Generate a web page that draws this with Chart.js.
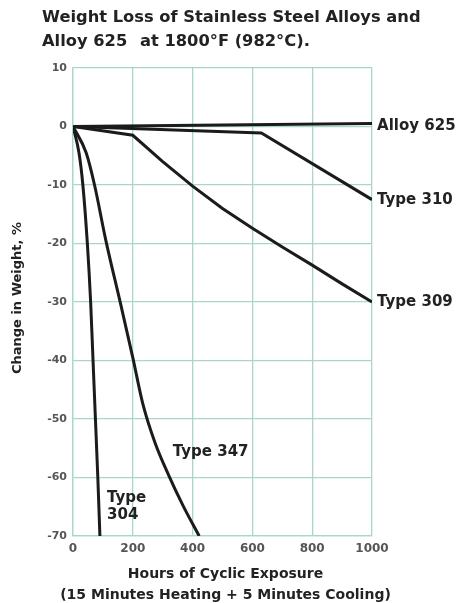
<!DOCTYPE html>
<html>
<head>
<meta charset="utf-8">
<script src="https://cdn.jsdelivr.net/npm/chart.js@4"></script>
<style>
  html, body { margin: 0; padding: 0; background: #fff; }
  #wrap { width: 457px; height: 603px; }
</style>
</head>
<body>
<div id="wrap"><canvas id="lossChart"></canvas></div>
<script>
// values (hours, % change in weight)
const hours625 = [0, 1000];
const change625 = [0, 0.5];

const hours310 = [0, 630, 1000];
const change310 = [0, -1.1, -12.5];

const hours309 = [0, 200, 300, 400, 500, 600, 700, 800, 900, 1000];
const change309 = [0, -1.5, -6.0, -10.2, -14.0, -17.4, -20.6, -23.7, -26.9, -30];

const hours347 = [0, 44, 72, 110, 160, 200, 234, 274, 319, 368, 422];
const change347 = [0, -4.5, -10, -19.5, -30.5, -39.5, -47.5, -54, -59.5, -64.8, -70];

const hours304 = [0, 20, 33, 48, 59, 67, 75, 83, 90];
const change304 = [0, -4.5, -10, -20, -30, -40, -50, -60, -70];

const xTicks = [0, 200, 400, 600, 800, 1000];
const yTicks = [10, 0, -10, -20, -30, -40, -50, -60, -70];

// curve labels, anchored in data units
const curveLabels = [
    { text: ['Alloy 625'], x: 1017, y: 0 },
    { text: ['Type 310'], x: 1017, y: -12.5 },
    { text: ['Type 309'], x: 1017, y: -30 },
    { text: ['Type 347'], x: 334, y: -55.7 },
    { text: ['Type', '304'], x: 114, y: -63.6 }
];

const titleLines = ['Weight Loss of Stainless Steel Alloys and'];
const xTitleLines = ['Hours of Cyclic Exposure', '(15 Minutes Heating + 5 Minutes Cooling)'];
const yTitle = 'Change in Weight, %';

const FONT = '"DejaVu Sans", sans-serif';
const GRID = '#a8d6cc';

function toPoints(xs, ys) {
    return xs.map((x, i) => ({ x: x, y: ys[i] }));
}

function lineSet(label, xs, ys, smooth) {
    return {
        label: label,
        data: toPoints(xs, ys),
        borderColor: '#1b1b1b',
        borderWidth: 3,
        pointRadius: 0,
        fill: false,
        tension: 0,
        cubicInterpolationMode: smooth ? 'monotone' : 'default'
    };
}

const textPlugin = {
    id: 'textPlugin',
    afterDraw(chart) {
        const ctx = chart.ctx;
        const xs = chart.scales.x;
        const ys = chart.scales.y;
        const area = chart.chartArea;
        ctx.save();
        ctx.fillStyle = '#222';
        ctx.textBaseline = 'middle';

        // title
        ctx.textAlign = 'left';
        ctx.font = 'bold 16.3px ' + FONT;
        ctx.fillText(titleLines[0], 42, 18);
        ctx.fillText('Alloy 625', 42, 42);
        ctx.fillText('at 1800°F (982°C).', 140, 42);

        // curve labels
        ctx.font = 'bold 15px ' + FONT;
        curveLabels.forEach(l => {
            const px = xs.getPixelForValue(l.x);
            const py = ys.getPixelForValue(l.y);
            l.text.forEach((t, i) => ctx.fillText(t, px, py + i * 17));
        });

        // x axis title
        ctx.textAlign = 'center';
        ctx.font = 'bold 14px ' + FONT;
        const cx = (area.left + area.right) / 2 + 3;
        xTitleLines.forEach((t, i) => ctx.fillText(t, cx, 574 + i * 21));

        // y axis title
        ctx.translate(18, (area.top + area.bottom) / 2 - 4);
        ctx.rotate(-Math.PI / 2);
        ctx.font = 'bold 13px ' + FONT;
        ctx.fillText(yTitle, 0, 0);
        ctx.restore();
    }
};

new Chart(document.getElementById('lossChart'), {
    type: 'line',
    data: {
        datasets: [
            lineSet('Alloy 625', hours625, change625, false),
            lineSet('Type 310', hours310, change310, false),
            lineSet('Type 309', hours309, change309, false),
            lineSet('Type 347', hours347, change347, true),
            lineSet('Type 304', hours304, change304, true)
        ]
    },
    plugins: [textPlugin],
    options: {
        responsive: true,
        maintainAspectRatio: false,
        animation: false,
        layout: {
            padding: { left: 0, right: 85, top: 68, bottom: 0 }
        },
        scales: {
            x: {
                type: 'linear',
                min: 0,
                max: 1000,
                afterFit: s => { s.height = 67; },
                afterBuildTicks: s => { s.ticks = xTicks.map(v => ({ value: v })); },
                ticks: {
                    padding: 6,
                    color: '#555',
                    callback: v => String(v),
                    font: { family: FONT, size: 12, weight: 'bold' }
                },
                grid: { color: GRID, lineWidth: 1.3, drawTicks: false },
                border: { color: GRID, width: 1.3 }
            },
            y: {
                min: -70,
                max: 10,
                afterFit: s => { s.width = 73; },
                afterBuildTicks: s => { s.ticks = yTicks.map(v => ({ value: v })); },
                ticks: {
                    padding: 6,
                    color: '#555',
                    callback: v => String(v),
                    font: { family: FONT, size: 11, weight: 'bold' }
                },
                grid: { color: GRID, lineWidth: 1.3, drawTicks: false },
                border: { color: GRID, width: 1.3 }
            }
        },
        plugins: {
            legend: { display: false },
            tooltip: { enabled: false }
        }
    }
});
</script>
</body>
</html>
